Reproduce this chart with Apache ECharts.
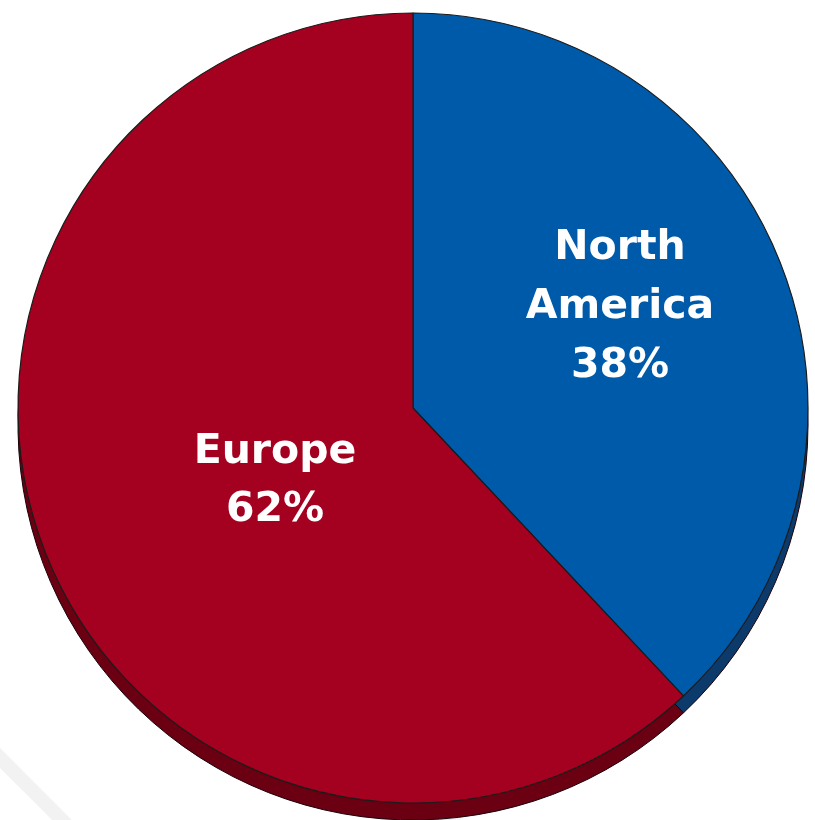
<!DOCTYPE html>
<html>
<head>
<meta charset="utf-8">
<script src="https://cdn.jsdelivr.net/npm/echarts@6/dist/echarts.min.js"></script>
<style>
  html, body { margin: 0; padding: 0; background: #ffffff; }
  #chart { width: 815px; height: 820px; }
</style>
</head>
<body>
<div id="chart"></div>
<script>
// Regional split, in percent
const regions = ['North America', 'Europe'];
const shares = [38, 62];

// Face and rim colours per region
const faceColors = ['#005AAA', '#A4001F'];
const rimColors = ['#0C3A6A', '#6A0012'];

const cx = 413, cy = 408, radius = 395, depth = 17;

const total = shares.reduce((a, b) => a + b, 0);
const labelText = regions.map((r, i) =>
  r.replace(' ', '\n') + '\n' + Math.round(shares[i] / total * 100) + '%');

const chart = echarts.init(document.getElementById('chart'), null, { renderer: 'canvas' });

const faceData = regions.map((r, i) => ({ name: r, value: shares[i], itemStyle: { color: faceColors[i] } }));
const rimData = regions.map((r, i) => ({ name: r, value: shares[i], itemStyle: { color: rimColors[i] } }));

chart.setOption({
  backgroundColor: '#ffffff',
  animation: false,
  graphic: [
    // soft backdrop shapes beneath the disc
    {
      type: 'ellipse', z: -10, silent: true,
      shape: { cx: 430, cy: 838, rx: 330, ry: 45 },
      style: {
        fill: new echarts.graphic.RadialGradient(0.5, 0.5, 0.5, [
          { offset: 0, color: '#a9bfd6' },
          { offset: 1, color: 'rgba(220,232,244,0)' }
        ])
      }
    },
    {
      type: 'line', z: -10, silent: true,
      shape: { x1: -10, y1: 748, x2: 75, y2: 833 },
      style: { stroke: '#f2f2f2', lineWidth: 14 }
    },
    {
      type: 'text', z: 100, silent: true,
      style: {
        text: labelText[0], x: 620, y: 307, align: 'center', verticalAlign: 'middle',
        fill: '#ffffff', font: 'bold 41px "DejaVu Sans"', lineHeight: 59
      }
    },
    {
      type: 'text', z: 100, silent: true,
      style: {
        text: labelText[1], x: 275, y: 481, align: 'center', verticalAlign: 'middle',
        fill: '#ffffff', font: 'bold 41px "DejaVu Sans"', lineHeight: 58
      }
    }
  ],
  series: [
    {
      // rim of the disc, offset downward
      type: 'pie', z: 1, silent: true,
      center: [cx, cy + depth], radius: [0, radius],
      startAngle: 90, clockwise: true,
      label: { show: false }, labelLine: { show: false },
      itemStyle: { borderColor: '#1a0008', borderWidth: 1 },
      data: rimData
    },
    {
      // top face
      type: 'pie', z: 2, silent: true,
      center: [cx, cy], radius: [0, radius],
      startAngle: 90, clockwise: true,
      label: { show: false }, labelLine: { show: false },
      itemStyle: { borderColor: '#1b1b1b', borderWidth: 1.2 },
      data: faceData
    }
  ]
});
</script>
</body>
</html>
